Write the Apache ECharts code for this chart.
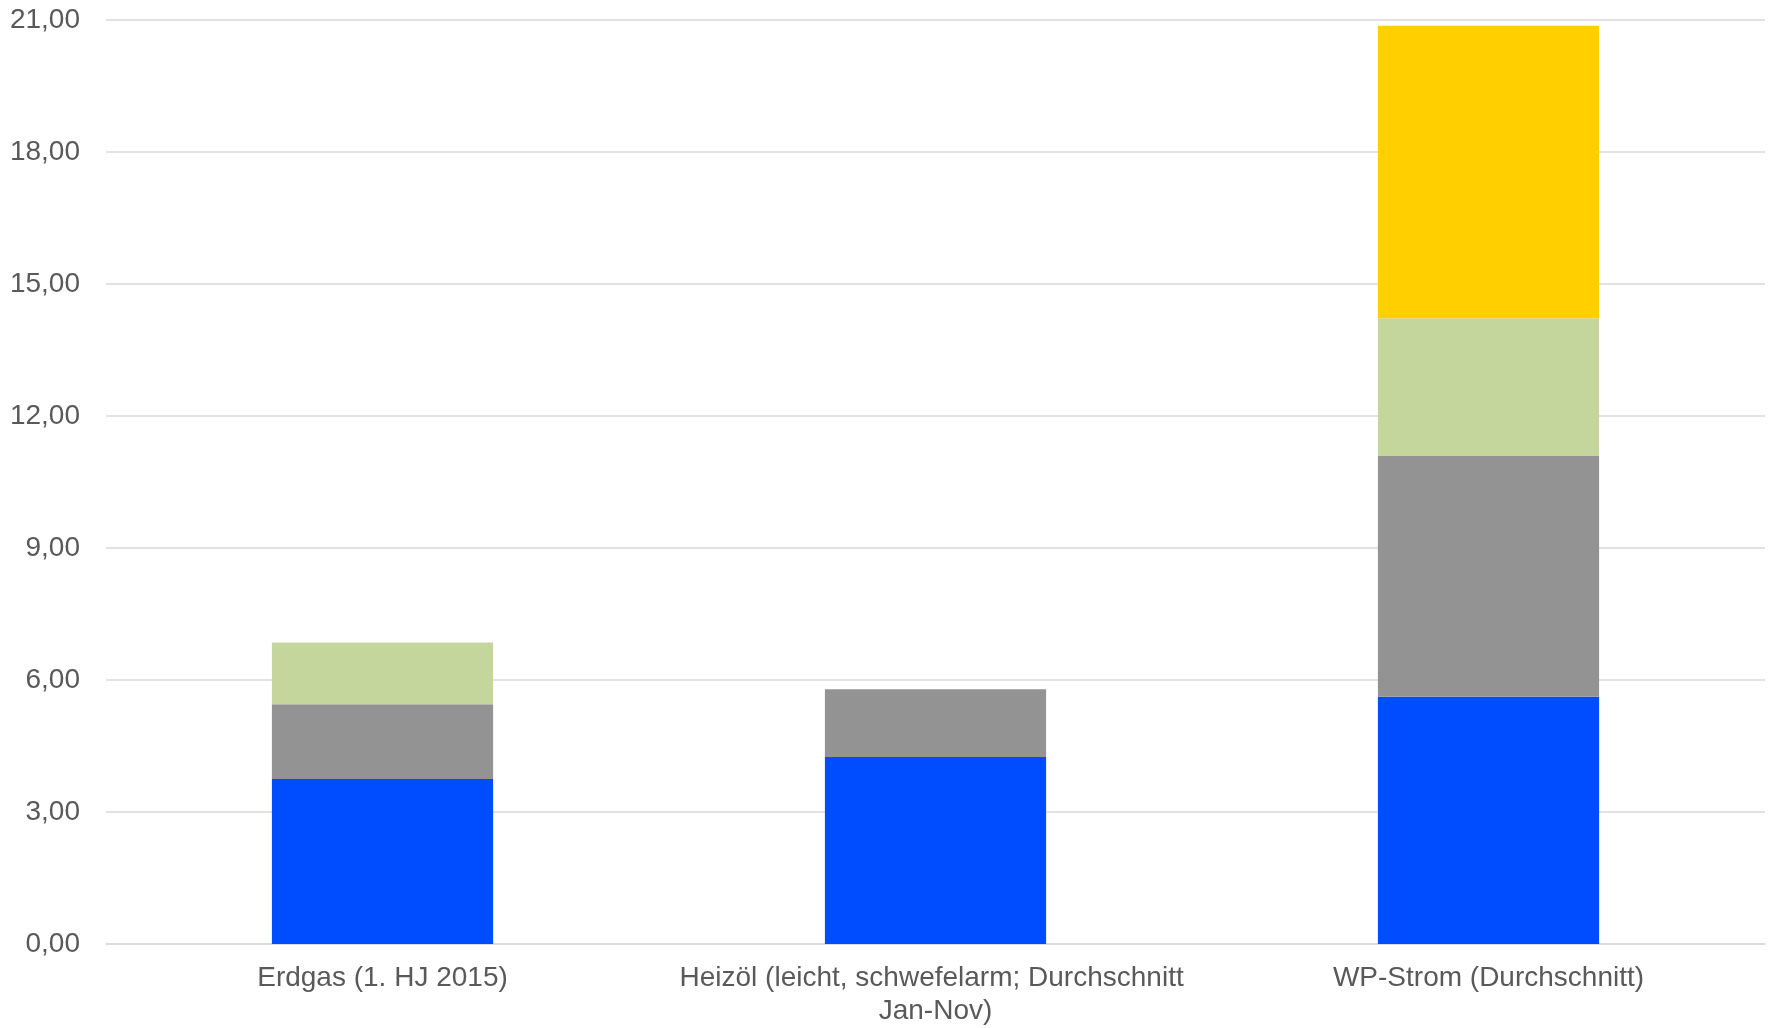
<!DOCTYPE html>
<html>
<head>
<meta charset="utf-8">
<script src="https://cdn.jsdelivr.net/npm/echarts@6/dist/echarts.min.js"></script>
<style>
html,body{margin:0;padding:0;background:#fff;}
#chart{width:1769px;height:1028px;}
</style>
</head>
<body>
<div id="chart"></div>
<script>
const categories = ["Erdgas (1. HJ 2015)", "Heizöl (leicht, schwefelarm; Durchschnitt Jan-Nov)", "WP-Strom (Durchschnitt)"];
const seriesNames = ["Anteil 1", "Anteil 2", "Anteil 3", "Anteil 4"];
const valuesBlue = [3.75, 4.25, 5.62];
const valuesGray = [1.70, 1.54, 5.47];
const valuesGreen = [1.40, null, 3.13];
const valuesYellow = [null, null, 6.65];
const yTicks = { min: 0, max: 21, interval: 3 };

const colors = ["#004DFF", "#939393", "#C4D69C", "#FFCF00"];
const allValues = [valuesBlue, valuesGray, valuesGreen, valuesYellow];

const chart = echarts.init(document.getElementById('chart'), null, { renderer: 'canvas' });
chart.setOption({
  animation: false,
  backgroundColor: '#ffffff',
  textStyle: { fontFamily: 'Liberation Sans, Arial, sans-serif' },
  grid: { left: 106, right: 4, top: 20, bottom: 81, containLabel: false },
  xAxis: {
    type: 'category',
    data: categories,
    axisTick: { show: false },
    axisLine: { lineStyle: { color: '#D9D9D9', width: 1.5 } },
    axisLabel: {
      color: '#595959', fontSize: 28, lineHeight: 33, margin: 18,
      width: 540, overflow: 'break', interval: 0,
      fontFamily: 'Liberation Sans, Arial, sans-serif'
    }
  },
  yAxis: {
    type: 'value',
    min: yTicks.min, max: yTicks.max, interval: yTicks.interval,
    axisLine: { show: false },
    axisTick: { show: false },
    splitLine: { lineStyle: { color: '#D9D9D9', width: 1.5 } },
    axisLabel: {
      color: '#595959', fontSize: 28, margin: 26,
      fontFamily: 'Liberation Sans, Arial, sans-serif',
      formatter: v => v.toFixed(2).replace('.', ',')
    }
  },
  series: allValues.map((vals, i) => ({
    name: seriesNames[i],
    type: 'bar',
    stack: 'total',
    barWidth: '40%',
    data: vals,
    itemStyle: { color: colors[i] }
  }))
});
</script>
</body>
</html>
